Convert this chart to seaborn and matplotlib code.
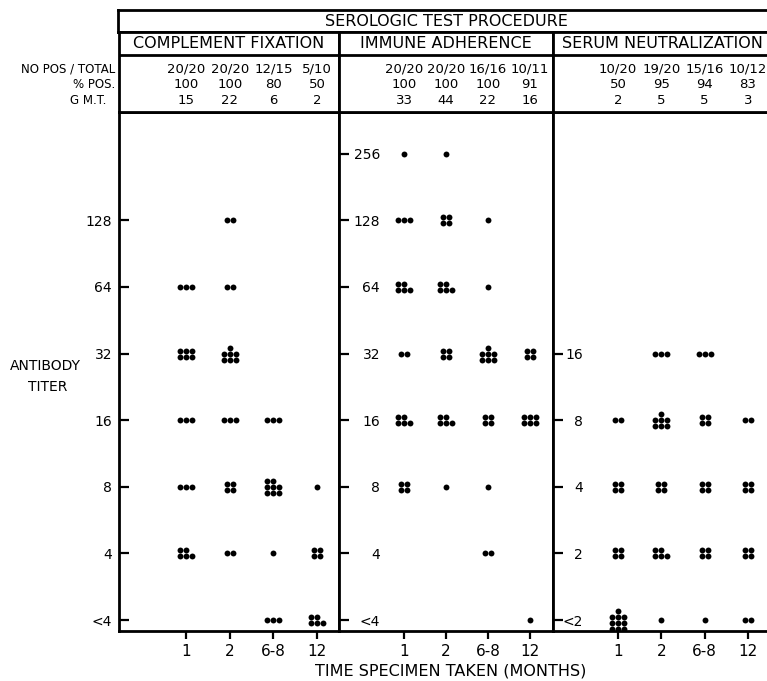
#serologic titers by time and test procedure
import numpy as np
import pandas as pd
import matplotlib.pyplot as plt
import seaborn as sns
from matplotlib.transforms import blended_transform_factory

#data
times = ["1", "2", "6-8", "12"]
procedures = ["COMPLEMENT FIXATION", "IMMUNE ADHERENCE", "SERUM NEUTRALIZATION"]

cf_levels = ["<4", "4", "8", "16", "32", "64", "128"]
ia_levels = ["<4", "4", "8", "16", "32", "64", "128", "256"]
sn_levels = ["<2", "2", "4", "8", "16"]

#number of sera at each titer (lowest first), one list per time
cf_counts = [[0, 5, 3, 3, 6, 3, 0],
             [0, 2, 4, 3, 7, 2, 2],
             [3, 1, 8, 3, 0, 0, 0],
             [5, 4, 1, 0, 0, 0, 0]]
ia_counts = [[0, 0, 4, 5, 2, 5, 3, 1],
             [0, 0, 1, 5, 4, 5, 4, 1],
             [0, 2, 1, 4, 7, 1, 1, 0],
             [1, 0, 0, 6, 4, 0, 0, 0]]
sn_counts = [[10, 4, 4, 2, 0],
             [1, 5, 4, 7, 3],
             [1, 4, 4, 4, 3],
             [2, 4, 4, 2, 0]]

cf_pos = ["20/20", "20/20", "12/15", "5/10"]
cf_pct = ["100", "100", "80", "50"]
cf_gmt = ["15", "22", "6", "2"]
ia_pos = ["20/20", "20/20", "16/16", "10/11"]
ia_pct = ["100", "100", "100", "91"]
ia_gmt = ["33", "44", "22", "16"]
sn_pos = ["10/20", "19/20", "15/16", "10/12"]
sn_pct = ["50", "95", "94", "83"]
sn_gmt = ["2", "5", "5", "3"]


#dot arrangement used for n sera in one cell
def cluster(n):
    if n <= 3:
        rows = [n]
    elif n == 4:
        rows = [2, 2]
    else:
        rows = [3] * (n // 3) + ([n % 3] if n % 3 else [])
    pts = []
    for r, k in enumerate(rows):
        if n == 4 or len(rows) == 1:
            cols = np.arange(k) - (k - 1) / 2
        elif k == 2:
            cols = [-1, 0]
        else:
            cols = np.arange(k) - (k - 1) / 2
        for c in cols:
            pts.append((c, r - (len(rows) - 1) / 2))
    return pts


records = []
for name, counts in zip(procedures, [cf_counts, ia_counts, sn_counts]):
    for t, col in enumerate(counts):
        for lev, n in enumerate(col):
            for dx, dy in cluster(n):
                records.append((name, t, lev, dx, dy))
df = pd.DataFrame(records, columns=["procedure", "time", "titer", "dx", "dy"])

sns.set_theme(style="white")
plt.rcParams['font.family'] = ['DejaVu Sans']
plt.rcParams['text.color'] = 'black'
plt.rcParams['xtick.color'] = 'black'
plt.rcParams['ytick.color'] = 'black'
plt.rcParams['axes.labelcolor'] = 'black'

W, H = 767, 681
fig = plt.figure(figsize=(W / 100, H / 100), dpi=100)


def box(x0, y0, x1, y1):
    return [x0 / W, 1 - y1 / H, (x1 - x0) / W, (y1 - y0) / H]


LW = 2.0
DOT = 6.0          # dot spacing in px
YPX = 66.6         # px per titer step
panel_x = [(119, 339), (339, 553), (553, 772)]
tick0 = [67, 65, 65]
step = [43.7, 42.0, 43.3]
levels = [cf_levels, ia_levels, sn_levels]
stats = [(cf_pos, cf_pct, cf_gmt), (ia_pos, ia_pct, ia_gmt), (sn_pos, sn_pct, sn_gmt)]
ypads = [5, -29.5, -21.6]

#title row
tax = fig.add_axes(box(118, 10, 780, 32))
tax.set_xticks([])
tax.set_yticks([])
for s in tax.spines.values():
    s.set_linewidth(LW)
    s.set_color("black")
fig.text(446 / W, 1 - 21 / H, "SEROLOGIC TEST PROCEDURE", ha="center", va="center", fontsize=11.5)

for i, name in enumerate(procedures):
    x0, x1 = panel_x[i]
    xlim = (-tick0[i] / step[i], (x1 - x0 - tick0[i]) / step[i])

    ax = fig.add_axes(box(x0, 112, x1, 631))
    sub = df[df["procedure"] == name].copy()
    sub["x"] = sub["time"] + sub["dx"] * DOT / step[i]
    sub["y"] = sub["titer"] + sub["dy"] * DOT / YPX
    sns.scatterplot(data=sub, x="x", y="y", ax=ax, color="black", s=18,
                    linewidth=0, legend=False)
    ax.set_xlim(xlim)
    ax.set_ylim(-11 / YPX, 508 / YPX)
    ax.set_xticks(range(len(times)))
    ax.set_xticklabels(times, fontsize=11)
    ax.set_yticks(range(len(levels[i])))
    ax.set_yticklabels(levels[i], fontsize=10)
    ax.set_xlabel("")
    ax.set_ylabel("")
    ax.tick_params(axis="y", direction="in", length=7, width=1.6, left=True, pad=ypads[i])
    ax.tick_params(axis="x", direction="out", length=6, width=1.6, bottom=True, pad=3)
    for s in ax.spines.values():
        s.set_linewidth(LW)
        s.set_color("black")

    #header with procedure name and summary table
    hax = fig.add_axes(box(x0, 32, x1, 112))
    hax.set_xlim(xlim)
    hax.set_ylim(0, 1)
    hax.set_xticks([])
    hax.set_yticks([])
    for s in hax.spines.values():
        s.set_linewidth(LW)
        s.set_color("black")
    hax.axhline(57 / 80, color="black", lw=LW)
    hax.text(0.5, 0.856, name, transform=hax.transAxes, ha="center", va="center", fontsize=11.5)
    tr = blended_transform_factory(hax.transData, hax.transAxes)
    for row, yy in zip(stats[i], [0.5375, 0.35, 0.15]):
        for t, txt in enumerate(row):
            hax.text(t, yy, txt, transform=tr, ha="center", va="center", fontsize=9.5)

#row labels of the summary table
for txt, yy, xx in [("NO POS / TOTAL", 69, 115), ("% POS.", 84, 115), ("G M.T.", 100, 106)]:
    fig.text(xx / W, 1 - yy / H, txt, ha="right", va="center", fontsize=8.5)

fig.text(45 / W, 1 - 366 / H, "ANTIBODY", ha="center", va="center", fontsize=10)
fig.text(48 / W, 1 - 387 / H, "TITER", ha="center", va="center", fontsize=10)
fig.text(451 / W, 1 - 671 / H, "TIME SPECIMEN TAKEN (MONTHS)", ha="center", va="center", fontsize=11.5)

plt.savefig("out.png", dpi=100)
